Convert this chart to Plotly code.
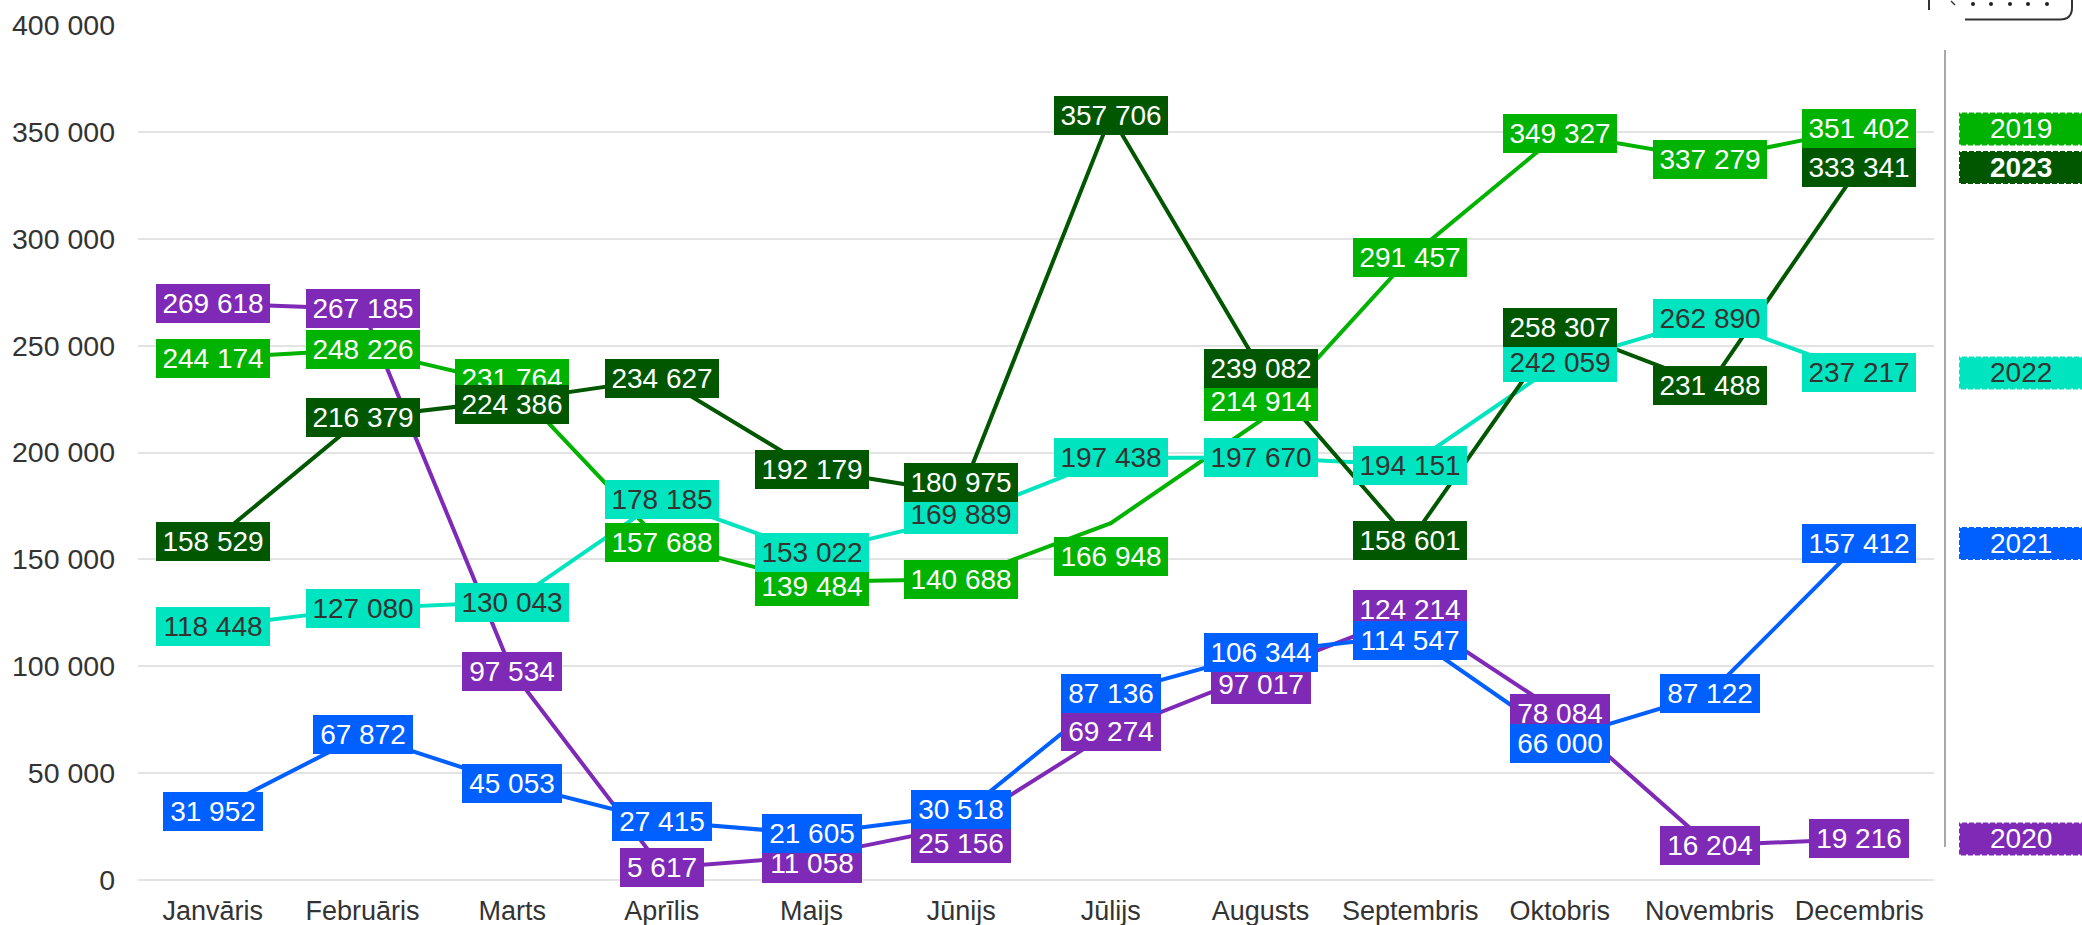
import plotly.graph_objects as go

# ---------------- data ----------------
months = ["Janvāris", "Februāris", "Marts", "Aprīlis", "Maijs", "Jūnijs",
          "Jūlijs", "Augusts", "Septembris", "Oktobris", "Novembris", "Decembris"]
years = ["2019", "2020", "2021", "2022", "2023"]
v2019 = [244174, 248226, 231764, 157688, 139484, 140688, 166948, 214914, 291457, 349327, 337279, 351402]
v2020 = [269618, 267185, 97534, 5617, 11058, 25156, 69274, 97017, 124214, 78084, 16204, 19216]
v2021 = [31952, 67872, 45053, 27415, 21605, 30518, 87136, 106344, 114547, 66000, 87122, 157412]
v2022 = [118448, 127080, 130043, 178185, 153022, 169889, 197438, 197670, 194151, 242059, 262890, 237217]
v2023 = [158529, 216379, 224386, 234627, 192179, 180975, 357706, 239082, 158601, 258307, 231488, 333341]
y_ticks = [0, 50000, 100000, 150000, 200000, 250000, 300000, 350000, 400000]

# ---------------- styles ----------------
values = {"2019": v2019, "2020": v2020, "2021": v2021, "2022": v2022, "2023": v2023}
colors = {"2019": "#00b300", "2020": "#7f2ab7", "2021": "#005fff", "2022": "#00e5bf", "2023": "#005700"}
text_colors = {"2019": "#ffffff", "2020": "#ffffff", "2021": "#ffffff", "2022": "#333333", "2023": "#ffffff"}
# label pixel nudges (positive = down) to mimic the collision avoidance of the original
label_nudge = {
    "2019": [0, 0, -6, 0, 5, 0, 33, -19, 0, 0, 0, 0],
    "2020": [0, 0, 0, 0, 7, 17, 0, 12, -5, 0, 0, 0],
    "2021": [0, 0, 0, 0, 0, -5, 0, 0, 5, 5, 0, 0],
    "2022": [0, 0, 0, 0, 0, -2, 0, 0, 0, 0, 0, 0],
    "2023": [0, 0, 4, 0, 0, -11, 0, 0, 0, 0, 0, 0],
}
end_order = ["2019", "2023", "2022", "2021", "2020"]

W, H = 2082, 925
L, R, T, B = 138, 148, 25, 45
PW, PH = W - L - R, H - T - B
YMAX = 400000
FONT = "Arial, Liberation Sans, sans-serif"


def fmt(v):
    return f"{v:,}".replace(",", " ")


def px_x(X):
    return (X - L) / PW


def px_y(Y):
    return (T + PH - Y) / PH


fig = go.Figure()
for yr in years:
    fig.add_trace(go.Scatter(
        x=months, y=values[yr], mode="lines", name=yr,
        line=dict(color=colors[yr], width=4), hoverinfo="skip", showlegend=False))

annotations = []
shapes = []
for yr in years:
    for m, v, nd in zip(months, values[yr], label_nudge[yr]):
        t = fmt(v)
        nd_digits = sum(c.isdigit() for c in t)
        n_sp = t.count(" ")
        annotations.append(dict(
            x=m, y=v, xref="x", yref="y", text=t, showarrow=False,
            font=dict(family=FONT, size=28, color=text_colors[yr]),
            bgcolor=colors[yr], borderpad=3, borderwidth=0,
            width=round(15 * nd_digits + 7.5 * n_sp + 11), height=33,
            yshift=-nd, align="center", valign="middle"))

# end labels (right-hand column)
for yr in end_order:
    v = values[yr][-1]
    yp = v / YMAX
    hh = 16.5 / PH
    shapes.append(dict(type="rect", xref="paper", yref="paper",
                       x0=px_x(1959), x1=px_x(2084), y0=yp - hh, y1=yp + hh,
                       fillcolor=colors[yr], line=dict(width=0), layer="above"))
    shapes.append(dict(type="rect", xref="paper", yref="paper",
                       x0=px_x(1959), x1=px_x(2084), y0=yp - hh, y1=yp + hh,
                       fillcolor="rgba(0,0,0,0)",
                       line=dict(color="white", width=2, dash="2px,5px"), layer="above"))
    txt = f"<b>{yr}</b>" if yr == "2023" else yr
    annotations.append(dict(
        x=px_x(2021), y=v, xref="paper", yref="y", text=txt, showarrow=False,
        font=dict(family=FONT, size=28, color=text_colors[yr]),
        xanchor="center", yanchor="middle"))

# vertical connector line
shapes.append(dict(type="line", xref="paper", yref="paper",
                   x0=px_x(1945), x1=px_x(1945), y0=px_y(50), y1=px_y(847),
                   line=dict(color="#a8a8a8", width=2)))

# partially visible menu button at the top right
shapes.append(dict(type="path", xref="paper", yref="paper",
                   path=f"M {px_x(1929)},{px_y(-2)} L {px_x(1929)},{px_y(10)}",
                   line=dict(color="#333333", width=2)))
shapes.append(dict(type="path", xref="paper", yref="paper",
                   path=(f"M {px_x(1965)},{px_y(19.5)} L {px_x(2060)},{px_y(19.5)} "
                         f"Q {px_x(2072)},{px_y(19.5)} {px_x(2072)},{px_y(7.5)} "
                         f"L {px_x(2072)},{px_y(-2)}"),
                   line=dict(color="#333333", width=2)))
shapes.append(dict(type="line", xref="paper", yref="paper",
                   x0=px_x(1951), x1=px_x(1955), y0=px_y(1), y1=px_y(5),
                   line=dict(color="#333333", width=1.5)))
for cx in [1973, 1991, 2010, 2028, 2047]:
    shapes.append(dict(type="circle", xref="paper", yref="paper",
                       x0=px_x(cx - 2), x1=px_x(cx + 2), y0=px_y(6), y1=px_y(2),
                       fillcolor="#222222", line=dict(width=0)))

fig.update_layout(
    width=W, height=H, autosize=False,
    margin=dict(l=L, r=R, t=T, b=B, pad=0),
    paper_bgcolor="white", plot_bgcolor="white",
    separators=". ",
    font=dict(family=FONT, color="#333333"),
    annotations=annotations, shapes=shapes,
    xaxis=dict(showgrid=False, showline=False, zeroline=False, ticks="",
               tickfont=dict(family=FONT, size=27, color="#333333"),
               ticklabelstandoff=12, automargin=False,
               range=[-0.5, 11.5], fixedrange=True),
    yaxis=dict(range=[0, YMAX], tickvals=y_ticks, tickformat=",d",
               showgrid=True, gridcolor="#e3e3e3", gridwidth=2,
               zeroline=True, zerolinecolor="#e3e3e3", zerolinewidth=2,
               showline=False, ticks="", ticklabelstandoff=22, automargin=False,
               tickfont=dict(family=FONT, size=28.5, color="#333333"), fixedrange=True),
)

fig.write_html("out.html", config={"displayModeBar": False},
               post_script="document.body.style.margin='0';document.body.style.overflow='hidden';")
